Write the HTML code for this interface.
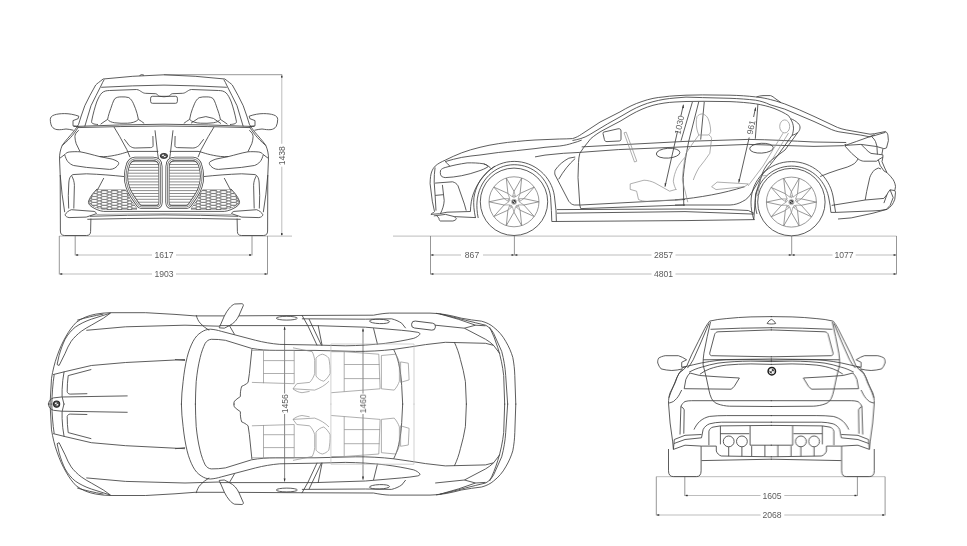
<!DOCTYPE html>
<html><head><meta charset="utf-8"><title>Dimensions</title>
<style>
html,body{margin:0;padding:0;background:#fff;}
body{width:967px;height:546px;overflow:hidden;font-family:"Liberation Sans",sans-serif;}
svg{display:block;position:absolute;left:0;top:0;}
.c{fill:none;stroke:#404040;stroke-width:.85;stroke-linecap:butt;stroke-linejoin:round;}
.l{fill:none;stroke:#8c8c8c;stroke-width:.7;stroke-linecap:butt;stroke-linejoin:round;}
.f{fill:#fff;stroke:#404040;stroke-width:.85;stroke-linejoin:round;}
.d{fill:none;stroke:#bdbdbd;stroke-width:1;}
.a{fill:#333;stroke:none;}
text{font-family:"Liberation Sans",sans-serif;font-size:8.6px;fill:#5c5c5c;text-anchor:middle;}
</style></head><body>
<svg width="967" height="546" viewBox="0 0 967 546">
<defs><filter id="gs" x="-10%" y="-10%" width="120%" height="120%" color-interpolation-filters="sRGB"><feColorMatrix type="saturate" values="0"/></filter></defs>
<rect width="967" height="546" fill="#fff"/>
<!-- dimension lines -->
<g class="d">
<!-- ground lines + dimension lines (light) -->
<path d="M59.3 236.1H292"/>
<path d="M75.2 255H152M176 255H252"/>
<path d="M59.3 274H152M176 274H267.5"/>
<path d="M281.8 74.7V143.8M281.8 166.7V236"/>
<path d="M393 236.1H896.5"/>
<path d="M430.5 255H461M483 255H651.5M675.5 255H832.5M855.7 255H896.5"/>
<path d="M430.5 274H651.5M675.5 274H896.5"/>
<path d="M656.3 476.7H885.1"/>
<path d="M684.8 495.5H760.5M784.3 495.5H857.4"/>
<path d="M656.3 515H760.5M784.3 515H885.1"/>
</g>
<g fill="none" stroke="#7c7c7c" stroke-width=".8">
<!-- extension lines (thin, darker) -->
<path d="M59.3 236V274.4M267.5 236V274.4M75.2 236V255.4M252 236V255.4"/>
<path d="M164 74.7H282.2"/>
<path d="M430.5 236V274.4M896.5 236V274.4M514.4 236V255.4M791.7 236V255.4"/>
<path d="M656.3 476.7V515.4M885.1 476.7V515.4M684.8 476.7V495.9M857.4 476.7V495.9"/>
</g>
<g fill="none" stroke="#505050" stroke-width=".7">
<path d="M284.6 326.8V393.5M284.6 414V481.4"/>
<path d="M363 328.6V393.5M363 414V479.6"/>
</g>
<g class="a">
<rect x="76.2" y="254.3" width="2" height="1.4"/><rect x="249" y="254.3" width="2" height="1.4"/>
<rect x="60.3" y="273.3" width="2" height="1.4"/><rect x="264.5" y="273.3" width="2" height="1.4"/>
<rect x="281.1" y="75.7" width="1.4" height="2"/><rect x="281.1" y="233" width="1.4" height="2"/>
<rect x="431.5" y="254.3" width="2" height="1.4"/><rect x="511.4" y="254.3" width="2" height="1.4"/><rect x="515.4" y="254.3" width="2" height="1.4"/>
<rect x="788.7" y="254.3" width="2" height="1.4"/><rect x="792.7" y="254.3" width="2" height="1.4"/><rect x="893.5" y="254.3" width="2" height="1.4"/>
<rect x="431.5" y="273.3" width="2" height="1.4"/><rect x="893.5" y="273.3" width="2" height="1.4"/>
<rect x="685.8" y="494.8" width="2" height="1.4"/><rect x="854.4" y="494.8" width="2" height="1.4"/>
<rect x="657.3" y="514.3" width="2" height="1.4"/><rect x="882.1" y="514.3" width="2" height="1.4"/>
<path d="M284.6 326.4L285.6 329.8H283.6ZM284.6 481.8L285.6 478.4H283.6ZM363 328.2L364 331.6H362ZM363 480L364 476.6H362Z"/>
</g>
<g filter="url(#gs)">
<text x="164" y="258">1617</text>
<text x="164" y="277">1903</text>
<text transform="translate(285 155.7) rotate(-90)">1438</text>
<text x="472" y="258">867</text>
<text x="663.5" y="258">2857</text>
<text x="844" y="258">1077</text>
<text x="663.5" y="277">4801</text>
<text x="772" y="498.5">1605</text>
<text x="772" y="518">2068</text>
<text transform="translate(287.7 403.7) rotate(-90)">1456</text>
<text transform="translate(366.1 403.7) rotate(-90)">1460</text>
</g>
<!-- FRONT VIEW -->
<defs>
<g id="fh">
<!-- roof + seam -->
<path class="c" d="M103.1 79Q132 75.7 164 74.8"/>
<path class="c" d="M101.2 87.3Q132 85.6 164 85.1"/>
<!-- A pillar outer / inner, continuing to fender -->
<path class="c" d="M103.1 79C99.5 82 97 83.5 95.7 85L90 95.3L84.8 105.7L81.2 116L78.6 124.3C77 127 75.5 129 74.5 130.5C70 136 65.5 140.5 62.1 145.6C60.3 150 59.5 154 59.5 158.5L60.2 175L60.4 231"/>
<path class="c" d="M104.2 79.6C103 81.5 102.2 83.2 101.4 85L96.2 95.3L91 105.7L87.9 116L84.8 126.4"/>
<path class="c" d="M78.6 126.6C75.5 132 71 138 62.1 145.6"/>
<!-- glass visible outline -->
<path class="c" d="M98 124.5C94 124.3 91 123.5 91.6 121.3C93 114 95 107 96.7 102C98.5 97.5 100 95 101.8 93C104 91 106.5 90.6 109.5 90.5L136.5 89.5C139 89.7 140 91 141.6 91.8C143 92.8 144 93.2 145.4 93.3L155.7 93.7C157.5 94 158 96 159.5 96.3L164 96.8"/>
<!-- rear view mirror half -->
<path class="c" d="M164 96.3H152.4Q150.6 96.3 150.6 98.2V101.4Q150.6 103.3 152.4 103.3H164"/>
<!-- headrest -->
<path class="c" d="M107.6 119.4C108.5 115 109.5 112 110.8 108.5C112 105 113 101.5 114.7 98.8C116.5 97.2 118.5 96.9 121.1 96.9C124 96.8 126.5 96.9 128.8 97.6C131 99 132.2 101 133.3 103.3C135 107 136.2 110.5 137.1 113.6L138.4 119.4C136 122 132 123 127.5 123.2C123 123.4 119 123.3 114.7 122.8C111.5 122.3 109 121.3 107.6 119.4Z"/>
<path class="c" d="M107.6 119.4C105 121 103 122.6 100.6 124.2M138.4 119.4C140.5 120.7 142.3 121.9 144.2 123.4"/>
<!-- windshield bottom / cowl -->
<path class="c" d="M73.6 126.5Q120 124.6 164 124.2"/>
<path class="c" d="M77.5 127.6Q121 126.3 164 126"/>
<!-- side mirror -->
<path class="c" d="M78.8 116.2C74 114.5 69 113.6 64.7 113.6C60.5 113.6 57 114 54.4 114.9C51.5 115.8 50.3 117.5 50.3 119.4C50.3 122 50.8 124.5 51.8 126.4C53 128.3 55 129.3 57 129.6C60 130 63 129.4 66 129C68.5 129 71 129.8 73.6 130.3"/>
<path class="c" d="M78.8 116.2L78.1 118.7L73 120.6V125.8L78.1 126.4"/>
<!-- hood shut line + hood front edge -->
<path class="c" d="M78.8 130.3C76 132.5 74.9 134.5 74.9 136.7C75 139 75.5 141.5 76.2 143.7L80 151.6"/>
<path class="c" d="M64.7 154.6C66 153 67.5 152.2 69.2 152C73 151.6 77 151.6 80 151.8C87 153 93 155 99.3 156.5C105 157 110 156.3 114.7 155.3C119 154.5 122 153.6 124.9 152.7C127 152 128.5 151.5 130 151.4H158.3"/>
<!-- hood crease -->
<path class="c" d="M114 127L119.8 136.7L126.8 149.5L130 157.2"/>
<!-- power dome inner -->
<path class="c" d="M124.3 139.2L128 144C129 145.5 129.5 146 130.5 146.5C132 147.5 133.5 148 135.2 148L150.6 147.6C152.3 147.5 153.1 146.8 153.1 145.6L152.9 136"/>
<!-- centre hood line -->
<path class="c" d="M155 130.3L157.6 153.3L158.4 158.5"/>
<!-- headlight -->
<path class="c" d="M59.5 158.5L64.7 154.6C65.5 157.5 66.5 160 67.9 161.7C69.5 163.5 71.5 164.8 73.6 165.5L86.5 167.4L109.5 169.4C111.5 169.4 113 169 114.7 168.1C116.5 167 117.8 165.5 118.5 164.2C118.9 163.2 118.6 162.3 117.9 161.7C116 160.5 114 159.7 112.1 159.1L99.3 156.5"/>
<!-- bumper upper line -->
<path class="c" d="M68.3 195.6L68.8 183C69 180 69.6 177.8 70.6 176.4C71.5 175.2 72.5 174.6 74 174.5L86.5 173.8C100 174.3 112 175.3 124.6 176.6"/>
<path class="c" d="M103.8 178L97.4 190.1"/>
<!-- air curtain slot -->
<path class="c" d="M68.3 195.6L68.7 208.5"/>
<path class="c" d="M71.6 175.8C73.3 178.5 74.3 181.8 74.4 185.4L73.8 208.5"/>
<!-- body outer lower second line -->
<path class="c" d="M60.2 175L62.1 194.2L64.7 212.2"/>
<!-- corner blade -->
<path class="c" d="M65.1 214.8C66.3 212.5 68.5 210.7 71.4 209.7L94.1 211.4C95.6 212 96.4 212.8 96.4 213.7L86.2 217.1L69.1 217.6C66.8 217.2 65.4 216.2 65.1 214.8Z"/>
<!-- splitter lines -->
<path class="l" d="M96.4 214.5Q130 213.8 164 213.7" stroke-width=".9" stroke="#aaa"/>
<path class="c" d="M90 216.3Q128 215 164 214.9"/>
<path class="c" d="M87.3 219.3Q128 218.3 164 218.2"/>
<!-- tyre -->
<path class="c" d="M60.4 231Q60.4 235.5 64.7 235.5H86.5Q90.6 235.5 90.6 231.4L90.9 218.6"/>
<!-- lower mesh grille -->
<path class="c" d="M97.4 190.1H125.6L130 199.4L136.5 208.3V209.4H105.7C101 209 97 207.8 94.2 206.4C91 204.8 89.5 203.5 89.7 202.6C89.7 201.5 89.9 200.3 90.3 199.4C92 196 94.5 192.5 97.4 190.1Z"/>
<path class="c" d="M97.2 188.8C94 192 90.5 196 88.6 201C88 203 89 205 92 207C96 209.5 100 211 103.6 211.4H164"/>
<clipPath id="mc"><path d="M97.4 190.1H125.6L130 199.4L136.5 208.3V209.4H105.7C101 209 97 207.8 94.2 206.4C91 204.8 89.5 203.5 89.7 202.6C89.7 201.5 89.9 200.3 90.3 199.4C92 196 94.5 192.5 97.4 190.1Z"/></clipPath>
<g clip-path="url(#mc)" fill="#fff" stroke="#4c4c4c" stroke-width=".6"><rect x="77.50" y="189.22" width="3.85" height="2.75" rx="1.3"/><rect x="81.45" y="187.75" width="5.95" height="2.75" rx="1.3"/><rect x="77.50" y="192.17" width="3.85" height="2.75" rx="1.3"/><rect x="81.45" y="190.70" width="5.95" height="2.75" rx="1.3"/><rect x="77.50" y="195.12" width="3.85" height="2.75" rx="1.3"/><rect x="81.45" y="193.65" width="5.95" height="2.75" rx="1.3"/><rect x="77.50" y="198.07" width="3.85" height="2.75" rx="1.3"/><rect x="81.45" y="196.60" width="5.95" height="2.75" rx="1.3"/><rect x="77.50" y="201.02" width="3.85" height="2.75" rx="1.3"/><rect x="81.45" y="199.55" width="5.95" height="2.75" rx="1.3"/><rect x="77.50" y="203.97" width="3.85" height="2.75" rx="1.3"/><rect x="81.45" y="202.50" width="5.95" height="2.75" rx="1.3"/><rect x="77.50" y="206.92" width="3.85" height="2.75" rx="1.3"/><rect x="81.45" y="205.45" width="5.95" height="2.75" rx="1.3"/><rect x="77.50" y="209.88" width="3.85" height="2.75" rx="1.3"/><rect x="81.45" y="208.40" width="5.95" height="2.75" rx="1.3"/><rect x="77.50" y="212.82" width="3.85" height="2.75" rx="1.3"/><rect x="81.45" y="211.35" width="5.95" height="2.75" rx="1.3"/><rect x="87.50" y="189.22" width="3.85" height="2.75" rx="1.3"/><rect x="91.45" y="187.75" width="5.95" height="2.75" rx="1.3"/><rect x="87.50" y="192.17" width="3.85" height="2.75" rx="1.3"/><rect x="91.45" y="190.70" width="5.95" height="2.75" rx="1.3"/><rect x="87.50" y="195.12" width="3.85" height="2.75" rx="1.3"/><rect x="91.45" y="193.65" width="5.95" height="2.75" rx="1.3"/><rect x="87.50" y="198.07" width="3.85" height="2.75" rx="1.3"/><rect x="91.45" y="196.60" width="5.95" height="2.75" rx="1.3"/><rect x="87.50" y="201.02" width="3.85" height="2.75" rx="1.3"/><rect x="91.45" y="199.55" width="5.95" height="2.75" rx="1.3"/><rect x="87.50" y="203.97" width="3.85" height="2.75" rx="1.3"/><rect x="91.45" y="202.50" width="5.95" height="2.75" rx="1.3"/><rect x="87.50" y="206.92" width="3.85" height="2.75" rx="1.3"/><rect x="91.45" y="205.45" width="5.95" height="2.75" rx="1.3"/><rect x="87.50" y="209.88" width="3.85" height="2.75" rx="1.3"/><rect x="91.45" y="208.40" width="5.95" height="2.75" rx="1.3"/><rect x="87.50" y="212.82" width="3.85" height="2.75" rx="1.3"/><rect x="91.45" y="211.35" width="5.95" height="2.75" rx="1.3"/><rect x="97.50" y="189.22" width="3.85" height="2.75" rx="1.3"/><rect x="101.45" y="187.75" width="5.95" height="2.75" rx="1.3"/><rect x="97.50" y="192.17" width="3.85" height="2.75" rx="1.3"/><rect x="101.45" y="190.70" width="5.95" height="2.75" rx="1.3"/><rect x="97.50" y="195.12" width="3.85" height="2.75" rx="1.3"/><rect x="101.45" y="193.65" width="5.95" height="2.75" rx="1.3"/><rect x="97.50" y="198.07" width="3.85" height="2.75" rx="1.3"/><rect x="101.45" y="196.60" width="5.95" height="2.75" rx="1.3"/><rect x="97.50" y="201.02" width="3.85" height="2.75" rx="1.3"/><rect x="101.45" y="199.55" width="5.95" height="2.75" rx="1.3"/><rect x="97.50" y="203.97" width="3.85" height="2.75" rx="1.3"/><rect x="101.45" y="202.50" width="5.95" height="2.75" rx="1.3"/><rect x="97.50" y="206.92" width="3.85" height="2.75" rx="1.3"/><rect x="101.45" y="205.45" width="5.95" height="2.75" rx="1.3"/><rect x="97.50" y="209.88" width="3.85" height="2.75" rx="1.3"/><rect x="101.45" y="208.40" width="5.95" height="2.75" rx="1.3"/><rect x="97.50" y="212.82" width="3.85" height="2.75" rx="1.3"/><rect x="101.45" y="211.35" width="5.95" height="2.75" rx="1.3"/><rect x="107.60" y="189.22" width="3.85" height="2.75" rx="1.3"/><rect x="111.55" y="187.75" width="5.95" height="2.75" rx="1.3"/><rect x="107.60" y="192.17" width="3.85" height="2.75" rx="1.3"/><rect x="111.55" y="190.70" width="5.95" height="2.75" rx="1.3"/><rect x="107.60" y="195.12" width="3.85" height="2.75" rx="1.3"/><rect x="111.55" y="193.65" width="5.95" height="2.75" rx="1.3"/><rect x="107.60" y="198.07" width="3.85" height="2.75" rx="1.3"/><rect x="111.55" y="196.60" width="5.95" height="2.75" rx="1.3"/><rect x="107.60" y="201.02" width="3.85" height="2.75" rx="1.3"/><rect x="111.55" y="199.55" width="5.95" height="2.75" rx="1.3"/><rect x="107.60" y="203.97" width="3.85" height="2.75" rx="1.3"/><rect x="111.55" y="202.50" width="5.95" height="2.75" rx="1.3"/><rect x="107.60" y="206.92" width="3.85" height="2.75" rx="1.3"/><rect x="111.55" y="205.45" width="5.95" height="2.75" rx="1.3"/><rect x="107.60" y="209.88" width="3.85" height="2.75" rx="1.3"/><rect x="111.55" y="208.40" width="5.95" height="2.75" rx="1.3"/><rect x="107.60" y="212.82" width="3.85" height="2.75" rx="1.3"/><rect x="111.55" y="211.35" width="5.95" height="2.75" rx="1.3"/><rect x="117.70" y="189.22" width="3.85" height="2.75" rx="1.3"/><rect x="121.65" y="187.75" width="5.95" height="2.75" rx="1.3"/><rect x="117.70" y="192.17" width="3.85" height="2.75" rx="1.3"/><rect x="121.65" y="190.70" width="5.95" height="2.75" rx="1.3"/><rect x="117.70" y="195.12" width="3.85" height="2.75" rx="1.3"/><rect x="121.65" y="193.65" width="5.95" height="2.75" rx="1.3"/><rect x="117.70" y="198.07" width="3.85" height="2.75" rx="1.3"/><rect x="121.65" y="196.60" width="5.95" height="2.75" rx="1.3"/><rect x="117.70" y="201.02" width="3.85" height="2.75" rx="1.3"/><rect x="121.65" y="199.55" width="5.95" height="2.75" rx="1.3"/><rect x="117.70" y="203.97" width="3.85" height="2.75" rx="1.3"/><rect x="121.65" y="202.50" width="5.95" height="2.75" rx="1.3"/><rect x="117.70" y="206.92" width="3.85" height="2.75" rx="1.3"/><rect x="121.65" y="205.45" width="5.95" height="2.75" rx="1.3"/><rect x="117.70" y="209.88" width="3.85" height="2.75" rx="1.3"/><rect x="121.65" y="208.40" width="5.95" height="2.75" rx="1.3"/><rect x="117.70" y="212.82" width="3.85" height="2.75" rx="1.3"/><rect x="121.65" y="211.35" width="5.95" height="2.75" rx="1.3"/><rect x="127.70" y="189.22" width="3.85" height="2.75" rx="1.3"/><rect x="131.65" y="187.75" width="5.95" height="2.75" rx="1.3"/><rect x="127.70" y="192.17" width="3.85" height="2.75" rx="1.3"/><rect x="131.65" y="190.70" width="5.95" height="2.75" rx="1.3"/><rect x="127.70" y="195.12" width="3.85" height="2.75" rx="1.3"/><rect x="131.65" y="193.65" width="5.95" height="2.75" rx="1.3"/><rect x="127.70" y="198.07" width="3.85" height="2.75" rx="1.3"/><rect x="131.65" y="196.60" width="5.95" height="2.75" rx="1.3"/><rect x="127.70" y="201.02" width="3.85" height="2.75" rx="1.3"/><rect x="131.65" y="199.55" width="5.95" height="2.75" rx="1.3"/><rect x="127.70" y="203.97" width="3.85" height="2.75" rx="1.3"/><rect x="131.65" y="202.50" width="5.95" height="2.75" rx="1.3"/><rect x="127.70" y="206.92" width="3.85" height="2.75" rx="1.3"/><rect x="131.65" y="205.45" width="5.95" height="2.75" rx="1.3"/><rect x="127.70" y="209.88" width="3.85" height="2.75" rx="1.3"/><rect x="131.65" y="208.40" width="5.95" height="2.75" rx="1.3"/><rect x="127.70" y="212.82" width="3.85" height="2.75" rx="1.3"/><rect x="131.65" y="211.35" width="5.95" height="2.75" rx="1.3"/><rect x="137.70" y="189.22" width="3.85" height="2.75" rx="1.3"/><rect x="141.65" y="187.75" width="5.95" height="2.75" rx="1.3"/><rect x="137.70" y="192.17" width="3.85" height="2.75" rx="1.3"/><rect x="141.65" y="190.70" width="5.95" height="2.75" rx="1.3"/><rect x="137.70" y="195.12" width="3.85" height="2.75" rx="1.3"/><rect x="141.65" y="193.65" width="5.95" height="2.75" rx="1.3"/><rect x="137.70" y="198.07" width="3.85" height="2.75" rx="1.3"/><rect x="141.65" y="196.60" width="5.95" height="2.75" rx="1.3"/><rect x="137.70" y="201.02" width="3.85" height="2.75" rx="1.3"/><rect x="141.65" y="199.55" width="5.95" height="2.75" rx="1.3"/><rect x="137.70" y="203.97" width="3.85" height="2.75" rx="1.3"/><rect x="141.65" y="202.50" width="5.95" height="2.75" rx="1.3"/><rect x="137.70" y="206.92" width="3.85" height="2.75" rx="1.3"/><rect x="141.65" y="205.45" width="5.95" height="2.75" rx="1.3"/><rect x="137.70" y="209.88" width="3.85" height="2.75" rx="1.3"/><rect x="141.65" y="208.40" width="5.95" height="2.75" rx="1.3"/><rect x="137.70" y="212.82" width="3.85" height="2.75" rx="1.3"/><rect x="141.65" y="211.35" width="5.95" height="2.75" rx="1.3"/></g>
<!-- kidney grille (left) -->
<path d="M135 158.85H153.2Q160.2 159.1 160.45 166.2L160.6 202Q160.5 206.8 156.5 206.95H141.6Q139.4 206.9 138.1 204.9L132.7 197Q128.9 191.5 127.7 187Q125.9 181.5 125.95 176.3Q126.2 170 127.8 165.4Q129.4 159.6 135 158.85Z" fill="#fff" stroke="#444" stroke-width="4.1" stroke-linejoin="round"/>
<path d="M135 158.85H153.2Q160.2 159.1 160.45 166.2L160.6 202Q160.5 206.8 156.5 206.95H141.6Q139.4 206.9 138.1 204.9L132.7 197Q128.9 191.5 127.7 187Q125.9 181.5 125.95 176.3Q126.2 170 127.8 165.4Q129.4 159.6 135 158.85Z" fill="none" stroke="#fff" stroke-width="2.55" stroke-linejoin="round"/>
<path d="M135 158.85H153.2Q160.2 159.1 160.45 166.2L160.6 202Q160.5 206.8 156.5 206.95H141.6Q139.4 206.9 138.1 204.9L132.7 197Q128.9 191.5 127.7 187Q125.9 181.5 125.95 176.3Q126.2 170 127.8 165.4Q129.4 159.6 135 158.85Z" fill="none" stroke="#555" stroke-width=".75"/>
<path d="M132.5 161.6H156.6M130.4 164.5H158.2M129.2 167.4H158.6M128.5 170.3H158.6M128.2 173.2H158.6M127.9 176.1H158.6M128.0 179.0H158.6M128.3 181.9H158.6M129.0 184.8H158.6M129.9 187.7H158.6M131.0 190.6H158.6M132.5 193.5H158.6M134.2 196.4H158.6M136.2 199.3H158.6M138.2 202.2H158.6M140.3 205.1H158.6" fill="none" stroke="#5a5a5a" stroke-width=".7"/>
</g>
</defs>
<use href="#fh"/>
<use href="#fh" transform="translate(328 0) scale(-1 1)"/>
<!-- BMW badge -->
<ellipse cx="163.9" cy="155.9" rx="3.7" ry="2.5" fill="#555" stroke="#2a2a2a" stroke-width=".9"/>
<path d="M163.9 154.5A2.1 1.4 0 0 0 161.8 155.9H163.9ZM163.9 157.3A2.1 1.4 0 0 0 166 155.9H163.9Z" fill="#eee"/>
<!-- steering wheel -->
<path class="c" d="M191 123.2Q205.7 109.8 221 123.6"/>
<!-- antenna -->
<path class="c" d="M139.5 75.6L141.6 74.6L144 75.2"/>
<!-- REAR VIEW -->
<defs>
<g id="rh">
<!-- roof -->
<path class="c" d="M709.7 321.1C715 319.8 720.5 319 726.2 318.6C734.5 317.7 742.5 317.2 750.9 316.9L772 316.6"/>
<!-- rear window top seam -->
<path class="c" d="M710.5 329.3Q740 327.9 772 327.7"/>
<!-- C pillar outer to fender -->
<path class="c" d="M709.7 321.1C707.8 323.3 706.2 325.8 704.8 328.5L698.2 341.7L691.6 354.9L686.6 366.4C684.5 369 682 371.2 679.2 373C677.5 376 676.2 379.3 675.1 382.9L670.1 392.8C669 396 668.5 399.5 668.5 403.2L670.1 423L672.6 441.1L673.4 449.4"/>
<path class="c" d="M708.9 323.5L699.8 345L693.2 359.8C691.5 363 689.5 365.8 687.4 368.1"/>
<!-- C pillar inner -> trunk side line -->
<path class="c" d="M710.5 321.9L707.2 336.7L703.9 353.2C703.3 357 703 361 703.1 364.8L706.4 378L708.9 390C709.5 393 710.3 395.8 711.4 398.2C713 401.3 715.2 403.2 718 404C721.5 405.3 725.5 406 729.5 406.2L772 406.5"/>
<!-- window inner -->
<path class="c" d="M718 331.8C716.2 332 715.2 332.9 714.7 334.3L709.7 353.2C709.7 354.7 710.3 355.5 711.4 355.7L772 356.8M718 331.8L772 329.9"/>
<path class="c" d="M703.1 359.8L772 359"/>
<!-- spoiler curves -->
<path class="c" d="M681.7 368.1C685.5 366.6 689.5 365.5 693.2 364.8C698.8 363.4 704.3 362.3 709.7 361.5C715.3 360.6 720.8 360 726.2 359.8L750.9 359.6L772 360.2"/>
<path class="c" d="M689.1 372.2C693 370 697.2 368.3 701.5 367.2C707 365.5 712.5 364 718 363.1C728.5 361.8 739.5 361.2 750.9 361.1L772 361.6"/>
<path class="c" d="M699.8 374.3C702.8 372 706 370.2 709.7 368.9C715 367 720.5 365.8 726.2 365.1C734.5 364.3 742.5 364 750.9 363.9L772 364.4"/>
<!-- mirror -->
<path class="c" d="M686.6 359.8C684 358 681.2 356.6 678.4 355.7H665.2C662.5 356.2 660.3 357 658.6 358.2C657.8 359.8 657.5 361.4 657.8 363.1C658.5 365.3 659.6 367.3 661.1 368.9C664.5 369.8 668 370.4 671.8 370.5C675.5 370.4 679 369.8 682.5 368.9"/>
<path class="c" d="M686.6 359.8L681.7 362.3V367.2L686.6 366.4"/>
<!-- fender second line -->
<path class="c" d="M682.5 368.9C680 371.6 678.2 374.6 676.7 378L673.4 386.2C671.8 390 670 394 668.9 397.8"/>
<path class="c" d="M668.5 403.2C670.3 402.8 672 402.2 673.4 401.5C675.8 399.6 677.8 397.4 679.2 394.9L681.7 390"/>
<!-- tail light -->
<path class="c" d="M684.2 388.7L685.8 379.6C686.8 377 688.2 374.8 689.9 373L699.8 375.5L718 376.8L739.4 378L734.4 386.2C733.5 387.4 732.4 388.4 731.1 389.2L684.2 388.7Z"/>
<!-- bumper top line -->
<path class="c" d="M680.9 406.5C681.8 404.3 683.2 402.6 685 401.5C687 400.9 689.2 400.7 691.6 400.7H772"/>
<!-- reflector slot -->
<path class="c" d="M680.9 406.5L680 434.5M680.9 406.5C682.5 407.2 683.6 408.3 684.2 409.8L683.8 433.7"/>
<!-- bumper mid line -->
<path class="c" d="M694 429.6C695.5 426.3 697.4 423.5 699.8 421.3C702.8 418.8 706 417.2 709.7 416.4C715 415.8 720.5 415.6 726.2 415.6H772"/>
<!-- diffuser outer -->
<path class="c" d="M701.5 437.8L703.1 429.6C704.5 426.8 706.8 424.8 709.7 423.8C713.5 422.8 717.3 422.3 721.3 422.2H772"/>
<!-- diffuser inner -->
<path class="c" d="M708.9 445.2V431.2C709.5 429 711 427.6 713 427.1L720.4 425.9V444.4M720.4 425.9L772 425.4"/>
<!-- side blade -->
<path class="c" d="M673.4 449.4L674.3 439.5L685 435.3L701.5 434.5"/>
<path class="c" d="M674 443.5L685 439.5L701.5 437.8"/>
<path class="c" d="M673.4 449.4L685 445.2L701.5 446.1H716.3V451C717.2 453.5 718.9 455.2 721.3 456L772 456.8"/>
<path class="c" d="M701.5 460.6L772 459.2"/>
<!-- exhaust -->
<circle class="c" cx="728.7" cy="441.4" r="5.4"/>
<circle class="c" cx="741.9" cy="441.4" r="5.4"/>
<path class="c" d="M720.4 433.7H749.3" stroke="#777"/>
<path class="c" d="M750.1 425.9V445.2H772M751.7 446.1V456M728.7 446.9V456.2M741.9 446.9V456.4M764.9 445.2V456.7"/>
<!-- tyre -->
<path class="c" d="M668.5 449V470.8Q668.5 476.6 673.4 476.6H696.5Q701.1 476.6 701.1 470.8V446.1"/>
</g>
</defs>
<use href="#rh"/>
<use href="#rh" transform="translate(1542.8 0) scale(-1 1)"/>
<!-- antenna fin -->
<path class="c" d="M767.1 323.5C768.2 321.5 769.7 320 771.4 319.4C773.1 320 774.6 321.5 775.7 323.5C772.7 324.2 770.1 324.2 767.1 323.5Z"/>
<!-- badge -->
<circle cx="771.8" cy="371.2" r="3.7" fill="#fff" stroke="#1c1c1c" stroke-width="1.5"/>
<circle cx="771.8" cy="371.2" r="2.4" fill="#444"/>
<path d="M771.8 368.8A2.4 2.4 0 0 0 769.4 371.2H771.8ZM771.8 373.6A2.4 2.4 0 0 0 774.2 371.2H771.8Z" fill="#fff"/>
<!-- SIDE VIEW -->
<g id="side">
<!-- top silhouette: nose, hood, windshield, roof, rear window, trunk -->
<path class="c" d="M430.9 214.4L432.6 213C433.8 212.5 434.5 212 434.5 211.5L432.3 201.2L430.1 183.7C430.2 178 430.7 174.5 431.6 172C432.5 169.5 433.8 167.5 435.2 166.1C438 163.5 441.5 161.8 445.2 160.2C450.5 157.5 456 155 461.7 152.8C467.5 150.7 473.5 148.8 480 147.3C486 145.8 492 144.6 498.3 143.7C504.5 142.7 510.5 142 516.6 141.5C523 140.8 529 140.4 535 140L545 139.6L559.7 139C564 138.9 568.5 138.9 572.5 138.6C576 137.6 579 136 581.7 134.1L600 122.1L620 111.9C623.5 109.8 627 107.8 631 105.9C634.5 104.2 638 102.8 642 101.5C645.5 100.3 649 99.2 653 98.4C656.5 97.7 660 97.2 664 96.9C667.5 96.3 671 96 675 95.8L686 95.2L702.5 94.9L730 95.2C739 95.4 748 96 755.6 96.9C762 97.6 767 98.6 770.5 99.6L775.9 101L784.7 103.9L799.3 109.8L814 116.4L837.4 127.4C840.5 128.6 843.5 129.4 846.2 129.9L870 134.2L874.6 133.7L885.6 131.5"/>
<!-- antenna fin -->
<path class="c" d="M756.5 96.9C758.5 96.3 760.5 95.7 763 95.6H770.5C772.5 96.3 773.8 97.3 774.9 98.3L781 102.6"/>
<!-- A pillar inner + roof second line + rear window lower -->
<path class="c" d="M572.5 140.5C578 139.5 584 138 589 135L607.3 124L620 116.9L631 110.5C634.5 108.6 638 106.9 642 105.3C645.5 103.9 649 102.7 653 101.7C656.5 100.8 660 100 664 99.3C667.5 98.8 671 98.3 675 98L686 97.1L702.5 97.6L730 98.3C739 98.6 748 99.3 755.6 100.2C760.5 101 765.5 102.5 770 104.7L784.7 109.1L814 121.5L831.6 129.6C834 130.6 836.5 131.3 838.9 131.8L860.9 135.1L870 136.9L885.6 132.3"/>
<!-- window frame top (front door + rear door) -->
<path class="c" d="M590.8 138.6C594 136 598 133 602 130.8L611 126L620 121.3L631 114.7C634.5 112.7 638 110.9 642 109.2C645.5 107.7 649 106.4 653 105.3C656.5 104.4 660 103.7 664 103.1C667.5 102.6 671 102.2 675 102L686 101.5L704.3 101.3L730 101.6C739 102 748 102.7 755.6 103.8C762 104.8 768.5 106.4 774 108.4C779.5 110.5 784.5 113 788.6 115.7L790.5 118.6C793.5 119.7 796 121.3 797.8 123C799.6 124.6 800.2 126.4 800 128.1C799.8 129.8 799 131.3 797.8 132.5C796.2 133.8 794.3 134.8 792 135.4"/>
<path class="c" d="M790.5 118.9C792.3 121.5 793.4 124.7 793.5 128.1C793.4 130.8 793 133.2 792 135.4"/>
<!-- hood lower / cowl -->
<!-- shoulder line from nose -->
<path class="c" d="M445.2 161.6C451 159.8 456 158.6 461.7 157.4C468 156.3 474 155.6 480 155L498.3 152.5L516.6 150.6L535 148.6L545 147.3L559.7 146C564.5 145.4 568.5 144.5 572.5 143.2C576 142.2 579 141.2 581.7 140.1"/>
<!-- headlight -->
<path class="c" d="M440.6 170.2C441.8 168.8 443.3 168 445.2 167.5C452.5 165.4 459.5 164 467.1 162.9C473 162.7 478.5 163 483.6 163.8C486 164.5 487.6 165.4 488.2 166.6C485.5 168.5 482 170 478.1 171.2C473 173 467.5 174.6 461.7 175.7C456 176.8 450.5 177.4 445.2 177.6C442.5 177.3 441 176.2 440.6 174.8C440.2 173.2 440.2 171.6 440.6 170.2Z"/>
<path class="c" d="M445.2 161.6C447 162.8 448.5 164.8 450 166.4M483.6 163.8C487 165 490 167 491.9 169.3"/>
<!-- nose second line -->
<path class="c" d="M435.1 167.5C434.4 172 434.1 177 434.2 182.1L435.1 195L436 210.6"/>
<!-- front intake -->
<path class="c" d="M435.1 183.1L452.5 181.8C455 182.4 456.8 183.8 458 185.8L464.4 204.1L466.2 210.6"/>
<path class="c" d="M442.4 184.9L444.2 200.5C444 205 442.5 209.5 440.6 213.3"/>
<!-- splitter -->
<path class="c" d="M430.9 214.4L439.6 213.7L447 212.2L470.4 211.5"/>
<path class="c" d="M433.8 215.9L445.5 214.4L454.3 216.6L475.5 217.6"/>
<path class="c" d="M436.5 215.6L438.9 218.1C439 219.8 439.5 220.7 440.4 221H452.8C454.6 220.6 455.8 219.9 456.5 218.8L454.3 216.6"/>
<path class="c" d="M435.2 195.4L443.3 194.7"/>
<!-- front arch -->
<path class="c" d="M475.5 218C474 211 473.3 204 473.9 197.9C477 176.5 494 161.4 514.2 161.4C534.5 161.4 551.5 176.5 554.4 195.8L556 210.5L556.4 221.5"/>
<path class="c" d="M478.2 218C477 212 476.6 206.5 477 202C478.5 181 494.5 164.7 514.2 164.7C533.5 164.7 548.5 179 550.6 197.3L551.4 210.5L551.8 221.5"/>
<path class="c" d="M470.4 211.5C470.6 204.5 471.6 198.5 473.3 193.9C475.8 187 479.3 181 483.6 176.4C486.8 172.5 490.5 169 495 166.1"/>
<!-- fender vent / gill -->
<path class="c" d="M575.2 157L568.8 158.2C563.5 161 558.5 165 555.1 170.2C554.6 172 554.6 173.5 555.1 175L568.8 201.3C570.5 203.5 572.3 204.7 574.3 205H580.7"/>
<path class="c" d="M575.2 158.5C569 164 563.5 171 558.7 179.3"/>
<!-- door front edge -->
<path class="c" d="M590.8 138.6L583.5 147.8L579.8 153.3C579 156.5 578.6 159.5 578.5 162.5L578 177.5L579.8 205L580.7 208.6"/>
<!-- beltline pair -->
<path class="c" d="M581.7 146.9L618.3 144.9L685 141.4L748.3 139.4C770 139.6 792 141 814 142L846.2 142.5"/>
<path class="c" d="M535 156.9L545 155.1L563.3 153.3L579.8 152.4L618.3 149.6L685 146.8L748.3 144.4L814 146.4L843.3 145.7L846.2 144.2"/>
<!-- mirror -->
<path class="f" d="M604 132L618 128.8C620 128.5 621 129.3 621 131V139C621 140.3 620.3 141 619 141L607 141.6C605.4 141.6 604.6 140.9 604.4 139.5L603 133.5C602.9 132.6 603.2 132.2 604 132Z"/>
<!-- door handles -->
<ellipse class="c" cx="668.1" cy="153.2" rx="11.8" ry="4.9" transform="rotate(-4 668.1 153.2)"/>
<ellipse class="c" cx="761.5" cy="148.2" rx="11.8" ry="4.9" transform="rotate(-3 761.5 148.2)"/>
<!-- B pillar -->
<path class="c" d="M692.4 102L681 140.8"/>
<path class="c" d="M698.8 101.6L688.7 141.4C686 155 684 167 683.2 177.5L683.8 205.9"/>
<path class="c" d="M704.3 101.6L700.7 139.6"/>
<path class="c" d="M757.9 104.3L755.3 138.8"/>
<!-- rear door rear edge following arch -->
<path class="c" d="M792 135.4L784.7 145.7L777.3 156C772 162.5 767.5 168.5 763 173.8L752 192.1C749.5 196.5 746.5 199.7 742.8 201.3C739 203.5 735 204.8 730 205H675"/>
<path class="c" d="M797.8 132.5L785 150L770.3 161C765.5 166 762.5 171.5 761.1 177.5L755.6 194L753.8 219.6"/>
<!-- door bottom lines -->
<path class="c" d="M580.7 205L685 199.5M580.7 208.6L685 205"/>
<path class="c" d="M675 199.8C687 199 700 197 711.6 194.9C723 192.8 734 190 744.6 186.7"/>
<!-- sill -->
<path class="c" d="M556.9 209.6L685 209L730 209.6L748.3 210.5L753.8 213.2"/>
<path class="c" d="M556.9 213.2L685 211.6L753.8 214.1"/>
<path class="c" d="M551.8 221.5L685 220.6L754.7 219.6"/>
<!-- rear arch -->
<path class="c" d="M753.8 219.6C752 214 751 208 751 202.2C751 179.5 769 161.6 791.4 161.6C812 161.6 829 176 833 196L834 202.3L835.6 212.4"/>
<path class="c" d="M757 214C755.8 210 755.3 206 755.3 202.2C755.3 182 771.5 166.1 791.4 166.1C809.5 166.1 824.5 178.5 828.6 197L830.1 205.4L830.9 212.4"/>
<!-- fender crease to taillight -->
<path class="c" d="M820.2 176.5C826 174 832 171.8 838 169.9L847.2 167.1C850 166 852.5 164.8 854.5 163.5C856 162 857.2 160.5 858.1 158.9"/>
<!-- tail light -->
<path class="c" d="M844.9 145.6C849 144 852.5 142.8 856.3 141.5L869.1 136.9L874.6 134.6"/>
<path class="c" d="M885.6 131.5C887 132.5 887.6 133.7 887.9 135.1L888.4 140.6L886.5 147.9L883.8 148.8"/>
<path class="c" d="M844.9 145.4L860.9 144.4L876.5 146.5L883.8 148.6"/>
<path class="c" d="M844.9 146L851.7 153.4L858.1 158.9C860 160.3 861.7 161 863.6 161.2H876.5L878.3 159.8L882.9 157.1V154.8L878.3 154.3L871 153.4C869 152.3 867.2 150.6 865.5 148.8L861.4 144.7"/>
<path class="c" d="M871.9 136.9C873.5 138.2 874.7 139.8 875.5 141.5L876.9 146.1L877.4 154.3M882.9 148.8L881.9 154.3"/>
<!-- neck -->
<path class="c" d="M878.3 159.8L880.1 165.3L883.8 170.8L887 172.7"/>
<path class="c" d="M882.9 157.1L882 161.6L884.7 168L887 172.7"/>
<!-- rear contour -->
<path class="c" d="M887 172.7C889.5 175 891.5 177.3 893.2 179.7C894.5 182 895.3 184.3 895.5 186.7L894.8 190.6L890.1 189.8C888.8 191.2 887.8 192.8 887 194.5L883.9 203.1"/>
<path class="c" d="M894.8 190.6L895.5 192.2L894.8 199.2C894 201.5 893 203.6 891.7 205.4C890.3 207 888.8 208.3 887 209.3C882.5 210.3 878 210.8 873 210.9L835.6 212.4H830.9"/>
<path class="c" d="M890.1 189.8L893.2 197.6L890.1 205.4L887 208.7"/>
<path class="c" d="M881 169L878.3 168L874.6 169.9C872.5 172 870.8 174.5 869.8 177.4L866.7 191.4L865.2 200"/>
<path class="c" d="M831.7 205.4L865.2 200L883.9 198.4L887 194.5"/>
<path class="c" d="M838 219L851.2 217.9L873 213.2L887 209.3"/>
<!-- interior (light) -->
<g class="l">
<path d="M624 132.8L634.5 162L636.8 161.2L626.2 132.2Z"/>
<path d="M685 157.3C681.5 161 679 164.5 676.9 168.3C675 172.5 673.8 176.8 673.3 181.2C674 185 675 188 676.5 190"/>
<path d="M630.2 183.9L644 180.2C648 180.4 651.5 181.3 655 183L669.6 191.2L676 189.4"/>
<path d="M630.2 183.9V189.4L636.6 191.2L638.5 199.5C641 200.8 644 201.3 647.6 201.3L682.4 199.5"/>
<path d="M697 116.6C698.5 114.8 700.3 113.9 702.5 113.9C705 114.5 706.8 116.2 708 118.5C709.7 122.5 710.6 127 710.7 131.3C710.3 133.3 709.3 134.6 708 135H698.8C697 131 696.3 127 696.3 123C696.3 120.5 696.5 118.4 697 116.6Z"/>
<path d="M698.8 135C694.5 141 690 147 686 153.3C684 162 682.8 171 682.3 180L687.8 202.2"/>
<path d="M709 135C710.5 136 711.4 137.3 711.6 138.6L709.8 153.3C706.5 158.5 702.5 163.3 698.8 168C696.5 172 694.6 176 693.3 180"/>
<ellipse cx="784.7" cy="126.4" rx="5" ry="6.5"/>
<path d="M783.1 133.1L763 166.1L748 186M788.5 133L770 163"/>
<path d="M711.6 186.7L717.1 182.1L748.3 183.9L744.6 186.7L716 189.6Z"/>
<path d="M757.5 196L761 176L766 175.5"/>
</g>
<!-- interior dimension lines (dark) -->
<path class="c" d="M683.4 104.7L680.9 116M677.6 131L665 186.7"/>
<path class="c" d="M755.6 107.5L753.6 117M749.2 137.5L738.8 182.6"/>
<path class="a" d="M683.4 104.7L684 108.2L682.2 107.8ZM665 186.7L664.6 183.2L666.4 183.6ZM755.6 107.5L756.1 111L754.3 110.6ZM738.8 182.6L738.4 179.1L740.2 179.5Z"/>
<g filter="url(#gs)"><text transform="translate(682.2 125.6) rotate(-77.5)">1030</text>
<text transform="translate(754 128) rotate(-77.5)">961</text></g>
<circle class="f" cx="514.0" cy="201.8" r="33.7"/>
<g fill="none" stroke="#777" stroke-width=".75" stroke-linejoin="round">
<circle cx="514.0" cy="201.8" r="25"/>
<path d="M521.7 178.0L520.1 193.4L534.2 187.1L523.9 198.6L539.0 201.8L523.9 205.0L534.2 216.5L520.1 210.2L521.7 225.6L514.0 212.2L506.3 225.6L507.9 210.2L493.8 216.5L504.1 205.0L489.0 201.8L504.1 198.6L493.8 187.1L507.9 193.4L506.3 178.0L514.0 191.4Z"/>
<path d="M514.0 191.4L515.6 196.9L520.1 193.4L518.2 198.7L523.9 198.6L519.2 201.8L523.9 205.0L518.2 204.9L520.1 210.2L515.6 206.7L514.0 212.2L512.4 206.7L507.9 210.2L509.8 204.9L504.1 205.0L508.8 201.8L504.1 198.6L509.8 198.7L507.9 193.4L512.4 196.9Z" stroke-width=".6"/>
</g>
<circle cx="514.0" cy="196.5" r=".9" fill="#fff" stroke="#555" stroke-width=".5"/>
<circle cx="519.0" cy="200.2" r=".9" fill="#fff" stroke="#555" stroke-width=".5"/>
<circle cx="517.1" cy="206.1" r=".9" fill="#fff" stroke="#555" stroke-width=".5"/>
<circle cx="510.9" cy="206.1" r=".9" fill="#fff" stroke="#555" stroke-width=".5"/>
<circle cx="509.0" cy="200.2" r=".9" fill="#fff" stroke="#555" stroke-width=".5"/>
<circle cx="514.0" cy="201.8" r="2.6" fill="#fff" stroke="#666" stroke-width=".5"/>
<circle cx="514.0" cy="201.8" r="2" fill="#333"/>
<path d="M514.0 200.5A1.3 1.3 0 0 0 512.7 201.8H514.0ZM514.0 203.10000000000002A1.3 1.3 0 0 0 515.3 201.8H514.0Z" fill="#ddd"/>
<circle class="f" cx="791.4" cy="202.1" r="33.7"/>
<g fill="none" stroke="#777" stroke-width=".75" stroke-linejoin="round">
<circle cx="791.4" cy="202.1" r="25"/>
<path d="M799.1 178.3L797.5 193.7L811.6 187.4L801.3 198.9L816.4 202.1L801.3 205.3L811.6 216.8L797.5 210.5L799.1 225.9L791.4 212.5L783.7 225.9L785.3 210.5L771.2 216.8L781.5 205.3L766.4 202.1L781.5 198.9L771.2 187.4L785.3 193.7L783.7 178.3L791.4 191.7Z"/>
<path d="M791.4 191.7L793.0 197.2L797.5 193.7L795.6 199.0L801.3 198.9L796.6 202.1L801.3 205.3L795.6 205.2L797.5 210.5L793.0 207.0L791.4 212.5L789.8 207.0L785.3 210.5L787.2 205.2L781.5 205.3L786.2 202.1L781.5 198.9L787.2 199.0L785.3 193.7L789.8 197.2Z" stroke-width=".6"/>
</g>
<circle cx="791.4" cy="196.8" r=".9" fill="#fff" stroke="#555" stroke-width=".5"/>
<circle cx="796.4" cy="200.5" r=".9" fill="#fff" stroke="#555" stroke-width=".5"/>
<circle cx="794.5" cy="206.4" r=".9" fill="#fff" stroke="#555" stroke-width=".5"/>
<circle cx="788.3" cy="206.4" r=".9" fill="#fff" stroke="#555" stroke-width=".5"/>
<circle cx="786.4" cy="200.5" r=".9" fill="#fff" stroke="#555" stroke-width=".5"/>
<circle cx="791.4" cy="202.1" r="2.6" fill="#fff" stroke="#666" stroke-width=".5"/>
<circle cx="791.4" cy="202.1" r="2" fill="#333"/>
<path d="M791.4 200.79999999999998A1.3 1.3 0 0 0 790.1 202.1H791.4ZM791.4 203.4A1.3 1.3 0 0 0 792.6999999999999 202.1H791.4Z" fill="#ddd"/>
</g>
<!-- TOP VIEW -->
<defs>
<g id="th">
<!-- outer contour -->
<path class="c" d="M50 404.7L51.5 378.3C52.8 370.5 54.6 363 57 356.3C59.5 349 62.5 342.3 66.1 336.1C69 331 72.3 326.3 76.2 322.4C82 318 88.5 315.5 95.5 314.2C100.5 313.3 105.5 312.8 110.1 312.7H145.7L175 314.4L195 315.9L225.4 315.9L315 315.4L373.5 315.2C379.5 314 385 313.2 389.6 313.1H430C441 313.2 451.5 315.6 461.4 318.2C468 319.6 475 320.3 481.6 321.2C486.5 322.5 490.5 324.5 493.6 327.2C498.5 331 502.7 335.8 505.7 341.3C508.8 346.5 511.2 352 512.8 357.4C514 363.5 514.6 369.5 514.8 375.6L515.8 404.7"/>
<!-- rear contours 2,3 -->
<path class="c" d="M436 313.3C446 315 456.5 318 465.4 320.2C472 322 479 323.5 485.6 325.2C489 327 491.7 329.8 493.6 333.3L501.7 351.4C503.8 359.5 505.2 367.5 505.7 375.6L507.7 404.7"/>
<path class="c" d="M489.6 327.2C492.8 333.5 495.5 340.3 497.7 347.4C500.6 356.5 502.6 366 503.7 375.6L504.7 404.7"/>
<!-- tail light -->
<path class="c" d="M464.4 328.2L475.5 325.2L485.6 325.8M464.4 328.2L485.6 339.3C488.5 341 491.2 343 493.6 345.4L499.7 353.4"/>
<path class="c" d="M435.2 325.2L464.4 328.2M440 314L458.8 319.4L475.5 325.2"/>
<!-- headlight -->
<path class="c" d="M57.1 364.5L59.1 355.4C60.8 349.5 62.8 344 65.1 339.3C67.8 334.5 71.2 330.5 75.2 327.2C80 323.8 85.5 321.2 91.3 319.2L110.5 313.1"/>
<path class="c" d="M57.1 364.5L59.1 365.5L65.1 353.4C66.8 349 68.8 345 71.2 341.3C74 337.5 77.5 334.2 81.3 331.3C84.5 329 87.8 327 91.3 325.2L103.4 318.2L110.5 313.1"/>
<path class="c" d="M77.2 320.2C85 317.8 94 315.8 103.4 314.1"/>
<!-- hood lines -->
<path class="c" d="M54.2 374.6C52.8 384 52 394 51.8 404.7"/>
<path class="c" d="M86.3 330.3L125.6 326.8L185 325.2L219.3 326.2"/>
<path class="c" d="M53.1 374.6L65.1 371.6L91.3 365.5L125.6 362.5L185 359.5"/>
<path class="c" d="M64.1 371.6C63 377.5 62.3 383.5 62.1 389.7L62.1 396.7L64.1 404.7"/>
<path class="c" d="M127.6 395.9L61.4 397L53.5 397.9C50.2 399 48.5 401.2 48.4 404.7"/>
<path class="c" d="M91.3 369.5L68.2 375.6C67.5 381 67.2 386.5 67.2 391.7C67.6 393.3 68.6 394 70.2 394.1L87.3 393.7"/>
<!-- cowl to mirror -->
<path class="c" d="M196.2 315.1C197 318.3 198.3 321 200.2 323.2C202.8 326 205.8 328.3 209.2 330.3"/>
<!-- mirror -->
<path class="f" d="M219.2 327.8L224.3 316.1C225.8 313 227.5 310.3 229.4 308.1C231 306.2 232.7 304.8 234.6 304L241.9 303.7C243 304 243.5 304.5 243.4 305.4L239 315.4C238 317.5 236.8 319.5 235.3 321.2C233.6 323 231.6 324.5 229.4 325.6L224.3 328.2Z"/>
<path class="c" d="M229.4 325.6L234.6 334.5"/>
<!-- A pillar outer / greenhouse outer -->
<path class="c" d="M181.4 404.7C181.5 397 182.1 389 183.1 381.6C184 373 185.3 365 187.1 357.4C188.6 351.3 190.6 346 193.1 341.3C195.2 337.3 198 334.2 201.2 332.3C204 330.3 207.2 329.3 210.3 329.2C214 329.4 217.7 330.2 221.3 331.3L255.6 340.3C263.5 342.3 271.5 343.7 279.8 344.4L315 345L345.3 345.8C359 345.6 372.5 344.8 385.6 343.3C395.5 342 405 340.4 413.8 338.3C416.5 337.3 418.6 336 419.8 334.3C420.3 333.5 419.6 332.8 417.8 332.3C412.5 331.4 407.5 330.8 401.7 330.3L365.4 327.2L315 325.6H219.3"/>
<!-- windshield inner + roof edge + trunk line -->
<path class="c" d="M195.4 404.7C195.5 397 195.7 389 196.2 381.6C197 373 198.3 365 200.2 357.4C201.5 352 203.2 347.3 205.2 343.3C206.8 340.8 208.8 339.5 211.3 339.3C216 339.2 220.8 339.6 225.4 340.3L251.6 348.4C259.5 349.8 267.5 350.4 275.7 350.4H315L355.4 351.4C368.5 351.5 381.5 350.8 393.6 349.4C404.5 348 415 346.2 425.5 344.6L445.3 342.3L485.6 343.3L493.6 345.4"/>
<!-- rear window top edge, trunk lid curve -->
<path class="c" d="M393.6 349.4C396 354 397.6 358.5 398.7 363.5C400.3 370.8 401.3 378 401.7 385.6L402.7 404.7"/>
<path class="c" d="M454.4 342.3C457 347.8 459 353.5 460.4 359.5C462.5 366.8 464.2 374 465.4 381.6L466.4 404.7"/>
<!-- rear door sill line -->
<path class="c" d="M301.9 318.8L365.4 319.2L391.6 318.8C395.5 319.8 398.8 321.3 401.7 323.2L405.7 328.2"/>
<!-- B / C pillars -->
<path class="c" d="M301.9 315.1L308 326L317.1 345.4M309 319L321.5 345.4M318.1 325.2L322.1 345.4"/>
<path class="c" d="M373.5 328.2L377.5 344.4"/>
<!-- door handles -->
<ellipse class="c" cx="286.8" cy="318.2" rx="10.5" ry="1.9"/>
<ellipse class="c" cx="379.5" cy="321.4" rx="10" ry="2.2" transform="rotate(2 379.5 321.4)"/>
<!-- hood rear edge at cowl -->
<path class="c" d="M175 359.5L185.1 360.5"/>
<!-- dashboard contour -->
<path class="c" d="M251.9 349.1L249.4 373.5L248.1 382.4C246 384.3 243.8 385.5 241.7 386.3C240.6 389.5 240.2 393 240.4 396.5C238 398 235.8 399.8 234 401.7V404.7"/>
<!-- interior (light) -->
<g class="l">
<path d="M251.9 350.4H294.2V383.7L251.9 382.4M263.5 350.4V383.2M263.5 360.6H294.2M263.5 373.5H294.2"/>
<path d="M293 347.8L312.2 351.7C313.6 354.5 314.4 357.5 314.7 360.6V373.5C313.8 376.8 312 380 309.6 382.4L296.8 383.7L293 388.8C295.5 391 298.5 392.3 302 392.7L309.6 391.4"/>
<path d="M316 358.1C317.7 356 319.8 354.7 322.4 354.2C325 354.8 327.2 356.2 328.8 358.1C329.8 363 330.2 368 330.1 373.5C328.5 376.8 326.3 379.5 323.7 381.2C320.5 380.5 317.8 378.7 316 376Z"/>
<path d="M293 388.8L314.7 390.1C320.5 388 325.5 385 329 381.2"/>
<!-- rear bench -->
<path d="M330.9 404.7V344H414V404.7" stroke="#bdbdbd"/>
<path d="M331.4 351.7H344.2L378.8 354.2L380.1 388.8L331.4 392.7M344.2 351.7V391.7M344.2 364.5H379.5M344.2 378.6H380"/>
<path d="M381.4 355.5L395.5 354.2C397.5 357 398.8 360 399.4 363.2V381.2C398.3 384.5 396.5 387.5 394.2 390.1L381.4 388.8Z"/>
<path d="M400.6 361.9L408.3 363.2L409.1 379.9L400.6 382.4Z"/>
</g>
</g>
</defs>
<use href="#th"/>
<use href="#th" transform="translate(0 808.2) scale(1 -1)"/>
<!-- fuel cap pill (one side only) -->
<rect class="c" x="411.5" y="322.1" width="24" height="7" rx="3.3" transform="rotate(7 423.5 325.6)"/>
<!-- badge on nose -->
<circle cx="56.6" cy="404.1" r="3.1" fill="#555" stroke="#262626" stroke-width="1.1"/>
<path d="M56.6 402.3A1.8 1.8 0 0 0 54.8 404.1H56.6ZM56.6 405.9A1.8 1.8 0 0 0 58.4 404.1H56.6Z" fill="#f4f4f4"/>
</svg>
</body></html>
